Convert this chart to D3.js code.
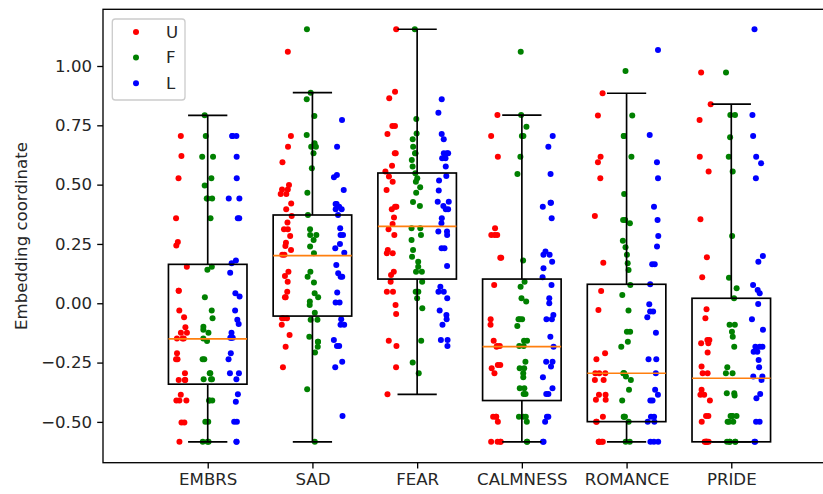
<!DOCTYPE html>
<html>
<head>
<meta charset="utf-8">
<script src="https://cdn.jsdelivr.net/npm/d3@7"></script>
<style>
  html, body { margin: 0; padding: 0; background: #ffffff; }
  svg { display: block; }
  text { font-family: "DejaVu Sans", sans-serif; }
</style>
</head>
<body>
<svg id="chart" width="823" height="494"></svg>
<script>
// ---------------- DATA ----------------
const categories = ["EMBRS", "SAD", "FEAR", "CALMNESS", "ROMANCE", "PRIDE"];
const groups = ["U", "F", "L"];
const groupColors = ["#ff0000", "#008000", "#0000ff"];
const yTicks = [-0.5, -0.25, 0, 0.25, 0.5, 0.75, 1.0];

// U series values, one list per category
const uValues = [
  [0.705, 0.621, 0.527, 0.358, 0.258, 0.243, 0.154, 0.053, 0.053, -0.031, -0.059, -0.101, -0.124, -0.124, -0.148, -0.148, -0.148, -0.211, -0.236, -0.236, -0.295, -0.323, -0.323, -0.323, -0.386, -0.410, -0.410, -0.410, -0.503, -0.503, -0.584],
  [1.060, 0.705, 0.660, 0.594, 0.498, 0.480, 0.480, 0.461, 0.461, 0.421, 0.396, 0.368, 0.340, 0.312, 0.312, 0.284, 0.255, 0.241, 0.225, 0.204, 0.204, 0.133, 0.115, 0.091, 0.049, 0.025, 0.025, -0.063, -0.063, -0.063, -0.091, -0.134, -0.183, -0.270],
  [1.155, 0.892, 0.864, 0.747, 0.747, 0.713, 0.632, 0.632, 0.580, 0.555, 0.534, 0.512, 0.477, 0.407, 0.407, 0.396, 0.362, 0.334, 0.312, 0.288, 0.225, 0.211, 0.211, 0.133, 0.119, 0.091, 0.049, 0.049, -0.007, -0.045, -0.158, -0.180, -0.270, -0.384],
  [0.793, 0.705, 0.618, 0.316, 0.288, 0.288, 0.288, 0.192, 0.192, 0.077, -0.067, -0.091, -0.158, -0.180, -0.180, -0.183, -0.260, -0.260, -0.274, -0.295, -0.478, -0.478, -0.478, -0.499, -0.584, -0.584, -0.584, -0.584],
  [0.885, 0.791, 0.618, 0.594, 0.527, 0.368, 0.171, 0.052, -0.028, -0.211, -0.236, -0.295, -0.295, -0.295, -0.323, -0.323, -0.386, -0.386, -0.407, -0.407, -0.478, -0.499, -0.499, -0.584, -0.584, -0.584, -0.584, -0.584],
  [0.973, 0.839, 0.772, 0.618, 0.555, 0.354, 0.194, 0.110, -0.025, -0.063, -0.155, -0.155, -0.169, -0.169, -0.208, -0.267, -0.295, -0.295, -0.365, -0.386, -0.386, -0.410, -0.475, -0.475, -0.499, -0.584, -0.584, -0.584, -0.584, -0.584, -0.584]
];

// F series values
const fValues = [
  [0.792, 0.705, 0.618, 0.618, 0.527, 0.496, 0.442, 0.442, 0.442, 0.358, 0.154, 0.141, 0.025, -0.031, -0.063, -0.099, -0.112, -0.124, -0.148, -0.159, -0.236, -0.236, -0.295, -0.295, -0.320, -0.320, -0.320, -0.410, -0.410, -0.410, -0.499, -0.499, -0.584, -0.584, -0.584],
  [1.155, 0.887, 0.860, 0.789, 0.709, 0.674, 0.660, 0.660, 0.632, 0.569, 0.466, 0.372, 0.312, 0.288, 0.288, 0.267, 0.239, 0.211, 0.133, 0.112, 0.087, 0.042, 0.025, 0.007, -0.007, -0.040, -0.070, -0.070, -0.141, -0.162, -0.162, -0.183, -0.208, -0.362, -0.584],
  [1.155, 0.777, 0.716, 0.691, 0.660, 0.632, 0.632, 0.604, 0.576, 0.548, 0.527, 0.512, 0.489, 0.466, 0.427, 0.410, 0.316, 0.316, 0.288, 0.267, 0.225, 0.196, 0.175, 0.154, 0.133, 0.133, 0.091, 0.049, 0.049, 0.021, -0.021, -0.158, -0.250, -0.295],
  [1.060, 0.793, 0.744, 0.705, 0.705, 0.618, 0.545, 0.180, 0.091, 0.070, 0.021, 0.007, -0.067, -0.067, -0.067, -0.096, -0.158, -0.158, -0.180, -0.180, -0.246, -0.274, -0.274, -0.295, -0.312, -0.358, -0.358, -0.382, -0.382, -0.478, -0.478, -0.478, -0.499, -0.584, -0.584],
  [0.979, 0.791, 0.705, 0.705, 0.618, 0.461, 0.351, 0.351, 0.337, 0.264, 0.236, 0.204, 0.169, 0.140, 0.077, 0.035, -0.031, -0.120, -0.120, -0.162, -0.183, -0.295, -0.295, -0.295, -0.309, -0.323, -0.365, -0.410, -0.478, -0.478, -0.478, -0.499, -0.584, -0.584],
  [0.973, 0.793, 0.793, 0.700, 0.618, 0.555, 0.284, 0.108, 0.063, 0.021, -0.091, -0.091, -0.120, -0.141, -0.183, -0.270, -0.295, -0.295, -0.379, -0.379, -0.389, -0.475, -0.475, -0.475, -0.475, -0.499, -0.499, -0.499, -0.584, -0.584, -0.584, -0.584, -0.584]
];

// L series values
const lValues = [
  [0.705, 0.705, 0.705, 0.618, 0.527, 0.442, 0.442, 0.358, 0.358, 0.180, 0.169, 0.129, 0.042, 0.028, -0.031, -0.070, -0.087, -0.124, -0.145, -0.145, -0.145, -0.211, -0.236, -0.295, -0.295, -0.320, -0.384, -0.415, -0.499, -0.499, -0.584, -0.584],
  [0.772, 0.660, 0.541, 0.531, 0.477, 0.418, 0.418, 0.407, 0.396, 0.396, 0.372, 0.316, 0.288, 0.288, 0.250, 0.232, 0.213, 0.161, 0.126, 0.112, 0.112, 0.045, 0.003, 0.003, -0.067, -0.091, -0.091, -0.155, -0.180, -0.180, -0.246, -0.270, -0.475],
  [0.860, 0.803, 0.713, 0.691, 0.632, 0.632, 0.632, 0.611, 0.611, 0.576, 0.536, 0.517, 0.475, 0.428, 0.428, 0.410, 0.396, 0.396, 0.358, 0.337, 0.302, 0.302, 0.288, 0.232, 0.232, 0.157, 0.070, 0.049, 0.049, 0.021, -0.031, -0.049, -0.067, -0.091, -0.155, -0.155, -0.180],
  [0.705, 0.660, 0.545, 0.424, 0.424, 0.407, 0.358, 0.218, 0.204, 0.204, 0.175, 0.148, 0.110, 0.077, 0.021, 0.000, -0.049, -0.067, -0.067, -0.141, -0.183, -0.246, -0.246, -0.267, -0.312, -0.358, -0.382, -0.382, -0.478, -0.478, -0.499, -0.584, -0.584],
  [1.067, 0.709, 0.594, 0.527, 0.407, 0.351, 0.284, 0.239, 0.164, 0.164, 0.080, -0.004, -0.035, -0.035, -0.059, -0.124, -0.236, -0.236, -0.295, -0.365, -0.386, -0.410, -0.410, -0.478, -0.478, -0.499, -0.499, -0.584, -0.584, -0.584],
  [1.155, 0.793, 0.705, 0.618, 0.590, 0.527, 0.199, 0.175, 0.077, 0.056, 0.042, -0.003, -0.067, -0.112, -0.183, -0.183, -0.183, -0.204, -0.204, -0.239, -0.270, -0.309, -0.309, -0.323, -0.382, -0.400, -0.499, -0.499, -0.584, -0.584]
];

// Box-plot statistics (per category)
const whiskerHigh = [0.792, 0.888, 1.155, 0.793, 0.885, 0.839];
const boxQ3       = [0.164, 0.372, 0.549, 0.102, 0.080, 0.021];
const boxMedian   = [-0.150, 0.201, 0.324, -0.183, -0.295, -0.316];
const boxQ1       = [-0.341, -0.054, 0.102, -0.410, -0.499, -0.584];
const whiskerLow  = [-0.584, -0.584, -0.384, -0.584, -0.584, -0.584];

const seriesValues = [uValues, fValues, lValues];

// ---------------- LAYOUT ----------------
const svg = d3.select("#chart");
const plot = { left: 103, right: 836, top: 9.3, bottom: 462.7 };
const x = d3.scaleLinear().domain([0, 7]).range([plot.left, plot.right]);
const y = d3.scaleLinear().domain([-0.672, 1.239]).range([plot.bottom, plot.top]);
const fontSize = 16.6;
const groupOffset = [-0.25, 0, 0.25];
const boxWidth = 0.75;

// deterministic horizontal jitter (spread only, not data)
function jitter(ci, gi, i) {
  const h = Math.sin((ci + 1) * 12.9898 + (gi + 1) * 78.233 + (i + 1) * 37.719) * 43758.5453;
  return ((h - Math.floor(h)) - 0.5) * 0.11;
}

// ---------------- POINTS ----------------
const pts = svg.append("g");
seriesValues.forEach((series, gi) => {
  series.forEach((vals, ci) => {
    pts.selectAll(null)
      .data(vals)
      .enter().append("circle")
      .attr("cx", (d, i) => x(ci + 1 + groupOffset[gi] + jitter(ci, gi, i)))
      .attr("cy", d => y(d))
      .attr("r", 3)
      .attr("fill", groupColors[gi]);
  });
});

// ---------------- BOXES ----------------
const boxes = svg.append("g");
categories.forEach((c, ci) => {
  const cx = x(ci + 1);
  const half = (x(boxWidth) - x(0)) / 2;
  const cap = half / 2;
  const g = boxes.append("g").attr("stroke", "#000").attr("stroke-width", 1.67).attr("fill", "none");
  g.append("rect")
    .attr("x", cx - half).attr("width", 2 * half)
    .attr("y", y(boxQ3[ci])).attr("height", y(boxQ1[ci]) - y(boxQ3[ci]));
  g.append("line").attr("x1", cx).attr("x2", cx).attr("y1", y(boxQ3[ci])).attr("y2", y(whiskerHigh[ci]));
  g.append("line").attr("x1", cx).attr("x2", cx).attr("y1", y(boxQ1[ci])).attr("y2", y(whiskerLow[ci]));
  g.append("line").attr("x1", cx - cap).attr("x2", cx + cap).attr("y1", y(whiskerHigh[ci])).attr("y2", y(whiskerHigh[ci]));
  g.append("line").attr("x1", cx - cap).attr("x2", cx + cap).attr("y1", y(whiskerLow[ci])).attr("y2", y(whiskerLow[ci]));
  boxes.append("line")
    .attr("x1", cx - half).attr("x2", cx + half)
    .attr("y1", y(boxMedian[ci])).attr("y2", y(boxMedian[ci]))
    .attr("stroke", "#ff7f0e").attr("stroke-width", 1.67);
});

// ---------------- AXES ----------------
const yAxis = d3.axisLeft(y).tickValues(yTicks).tickFormat(d3.format(".2f"))
  .tickSize(5.8).tickPadding(5.2);
const yg = svg.append("g").attr("transform", `translate(${plot.left},0)`).call(yAxis);
yg.select(".domain").remove();
yg.selectAll(".tick line").attr("stroke", "#000").attr("stroke-width", 1.33);
yg.selectAll(".tick text").attr("font-size", fontSize).attr("fill", "#262626")
  .attr("font-family", "DejaVu Sans");

const xAxis = d3.axisBottom(x).tickValues(d3.range(1, categories.length + 1))
  .tickFormat((d) => categories[d - 1]).tickSize(5.8).tickPadding(5.2);
const xg = svg.append("g").attr("transform", `translate(0,${plot.bottom})`).call(xAxis);
xg.select(".domain").remove();
xg.selectAll(".tick line").attr("stroke", "#000").attr("stroke-width", 1.33);
xg.selectAll(".tick text").attr("font-size", fontSize).attr("fill", "#262626")
  .attr("font-family", "DejaVu Sans");

// spines
svg.append("rect")
  .attr("x", plot.left).attr("y", plot.top)
  .attr("width", plot.right - plot.left).attr("height", plot.bottom - plot.top)
  .attr("fill", "none").attr("stroke", "#000").attr("stroke-width", 1.33);

// y label
svg.append("text")
  .attr("transform", `translate(21.5,${(plot.top + plot.bottom) / 2}) rotate(-90)`)
  .attr("text-anchor", "middle").attr("dominant-baseline", "central")
  .attr("font-size", fontSize).attr("fill", "#262626")
  .text("Embedding coordinate");

// ---------------- LEGEND ----------------
const lg = svg.append("g");
lg.append("rect")
  .attr("x", 112.3).attr("y", 19).attr("width", 72.7).attr("height", 81)
  .attr("rx", 3).attr("fill", "#ffffff").attr("fill-opacity", 0.8)
  .attr("stroke", "#cccccc").attr("stroke-width", 1.33);
const legendY = [32, 57.5, 83.3];
groups.forEach((name, gi) => {
  lg.append("circle").attr("cx", 136).attr("cy", legendY[gi]).attr("r", 3).attr("fill", groupColors[gi]);
  lg.append("text").attr("x", 166).attr("y", legendY[gi])
    .attr("dominant-baseline", "central")
    .attr("font-size", fontSize).attr("fill", "#262626").text(name);
});
</script>
</body>
</html>
